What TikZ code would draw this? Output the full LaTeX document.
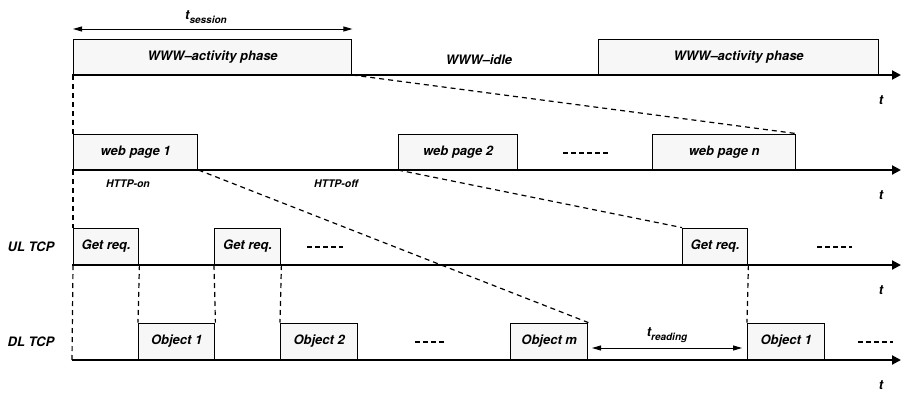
\documentclass[tikz,border=0pt]{standalone}
\usepackage{fontspec}
\setsansfont{TeX Gyre Heros}
\usetikzlibrary{arrows.meta,calc}
\tikzset{
  lbl/.style={font=\sffamily\bfseries\itshape\fontsize{13}{14}\selectfont, inner sep=0pt},
  smalllbl/.style={font=\sffamily\bfseries\itshape\fontsize{10.5}{11}\selectfont, inner sep=0pt},
  phasebox/.style={lbl, draw=black, fill=gray!6, line width=1.4pt, inner sep=0pt,
                   anchor=south west, minimum height=35pt},
  pagebox/.style={phasebox, minimum height=35pt},
  tcpbox/.style={phasebox, minimum height=36pt},
  timeaxis/.style={line width=2pt, -{Triangle[length=9pt,width=9pt]}},
  link/.style={line width=1.2pt, dash pattern=on 5pt off 4pt},
  cont/.style={line width=2pt, dash pattern=on 5pt off 3pt},
  span/.style={line width=0.9pt, {Triangle[length=9pt,width=5pt]}-{Triangle[length=9pt,width=5pt]}},
}
\begin{document}
\begin{tikzpicture}[x=1pt,y=-1pt]
\useasboundingbox (0,0) rectangle (902,394);

% ---- session level ----
\node[phasebox, minimum width=278pt] (act1) at (73,75) {WWW--activity phase};
\node[phasebox, minimum width=280pt] (act2) at (598,75) {WWW--activity phase};
\node[lbl] (idle) at (479,60) {WWW--idle};
\coordinate (ax1s) at (72,75);
\coordinate (ax1e) at (901,75);
\draw[timeaxis] (ax1s) -- (ax1e);
\node[lbl] (t1) at (881,100) {t};

\draw[span] (act1.north west |- 0,29) coordinate (ss) -- (act1.north east |- 0,29) coordinate (se);
\node[inner sep=0pt] (tsess) at (206,17)
  {\sffamily\bfseries\itshape\fontsize{13}{14}\selectfont t\raisebox{-4pt}{\fontsize{10}{11}\selectfont session}};

% ---- page level ----
\node[pagebox, minimum width=124pt] (wp1) at (73,170) {web page 1};
\node[pagebox, minimum width=119pt] (wp2) at (398,170) {web page 2};
\node[pagebox, minimum width=143pt] (wpn) at (652,170) {web page n};
\coordinate (pd1) at (563,153);
\coordinate (pd2) at (610,153);
\draw[cont] (pd1) -- (pd2);
\coordinate (ax2s) at (72,170);
\coordinate (ax2e) at (901,170);
\draw[timeaxis] (ax2s) -- (ax2e);
\node[lbl] (t2) at (881,195) {t};
\node[smalllbl] (on) at (128,184) {HTTP-on};
\node[smalllbl] (off) at (336,184) {HTTP-off};

% ---- uplink TCP ----
\node[tcpbox, minimum width=65pt] (get1) at (73,265) {Get req.};
\node[tcpbox, minimum width=66pt] (get2) at (214,265) {Get req.};
\node[tcpbox, minimum width=65pt] (get3) at (682,265) {Get req.};
\coordinate (ud1) at (307,247);
\coordinate (ud2) at (343,247);
\draw[cont] (ud1) -- (ud2);
\coordinate (ud3) at (817,247);
\coordinate (ud4) at (852,247);
\draw[cont] (ud3) -- (ud4);
\coordinate (ax3s) at (72,265);
\coordinate (ax3e) at (901,265);
\draw[timeaxis] (ax3s) -- (ax3e);
\node[lbl] (t3) at (881,290) {t};
\node[lbl] (ul) at (31,247) {UL TCP};

% ---- downlink TCP ----
\node[tcpbox, minimum width=76pt] (obj1) at (138,360) {Object 1};
\node[tcpbox, minimum width=77pt] (obj2) at (280,360) {Object 2};
\node[tcpbox, minimum width=77pt] (objm) at (510,360) {Object m};
\node[tcpbox, minimum width=77pt] (objb) at (747,360) {Object 1};
\coordinate (dd1) at (415,342);
\coordinate (dd2) at (446,342);
\draw[cont] (dd1) -- (dd2);
\coordinate (dd3) at (858,342);
\coordinate (dd4) at (893,342);
\draw[cont] (dd3) -- (dd4);
\coordinate (ax4s) at (72,360);
\coordinate (ax4e) at (901,360);
\draw[timeaxis] (ax4s) -- (ax4e);
\node[lbl] (t4) at (881,385) {t};
\node[lbl] (dl) at (31,342) {DL TCP};

\coordinate (rs) at (592,348);
\coordinate (re) at (742,348);
\draw[span] (rs) -- (re);
\node[inner sep=0pt] (tread) at (667,335)
  {\sffamily\bfseries\itshape\fontsize{13}{14}\selectfont t\raisebox{-4pt}{\fontsize{10}{11}\selectfont reading}};

% ---- zoom connectors ----
\draw[link] (act1.south east) -- (wpn.north east);
\draw[link] (wp1.south east) -- (objm.north east);
\draw[link] (wp2.south west) -- (get3.north west);

% ---- alignment guides ----
\draw[link] (act1.south west) -- (wp1.north west);
\draw[link] (wp1.south west) -- (get1.north west);
\draw[link] (get1.south west) -- (ax4s);
\draw[link] (get1.south east) -- (obj1.north west);
\draw[link] (get2.south west) -- (obj1.north east);
\draw[link] (get2.south east) -- (obj2.north west);
\draw[link] (get3.south east) -- (objb.north west);
\end{tikzpicture}
\end{document}
